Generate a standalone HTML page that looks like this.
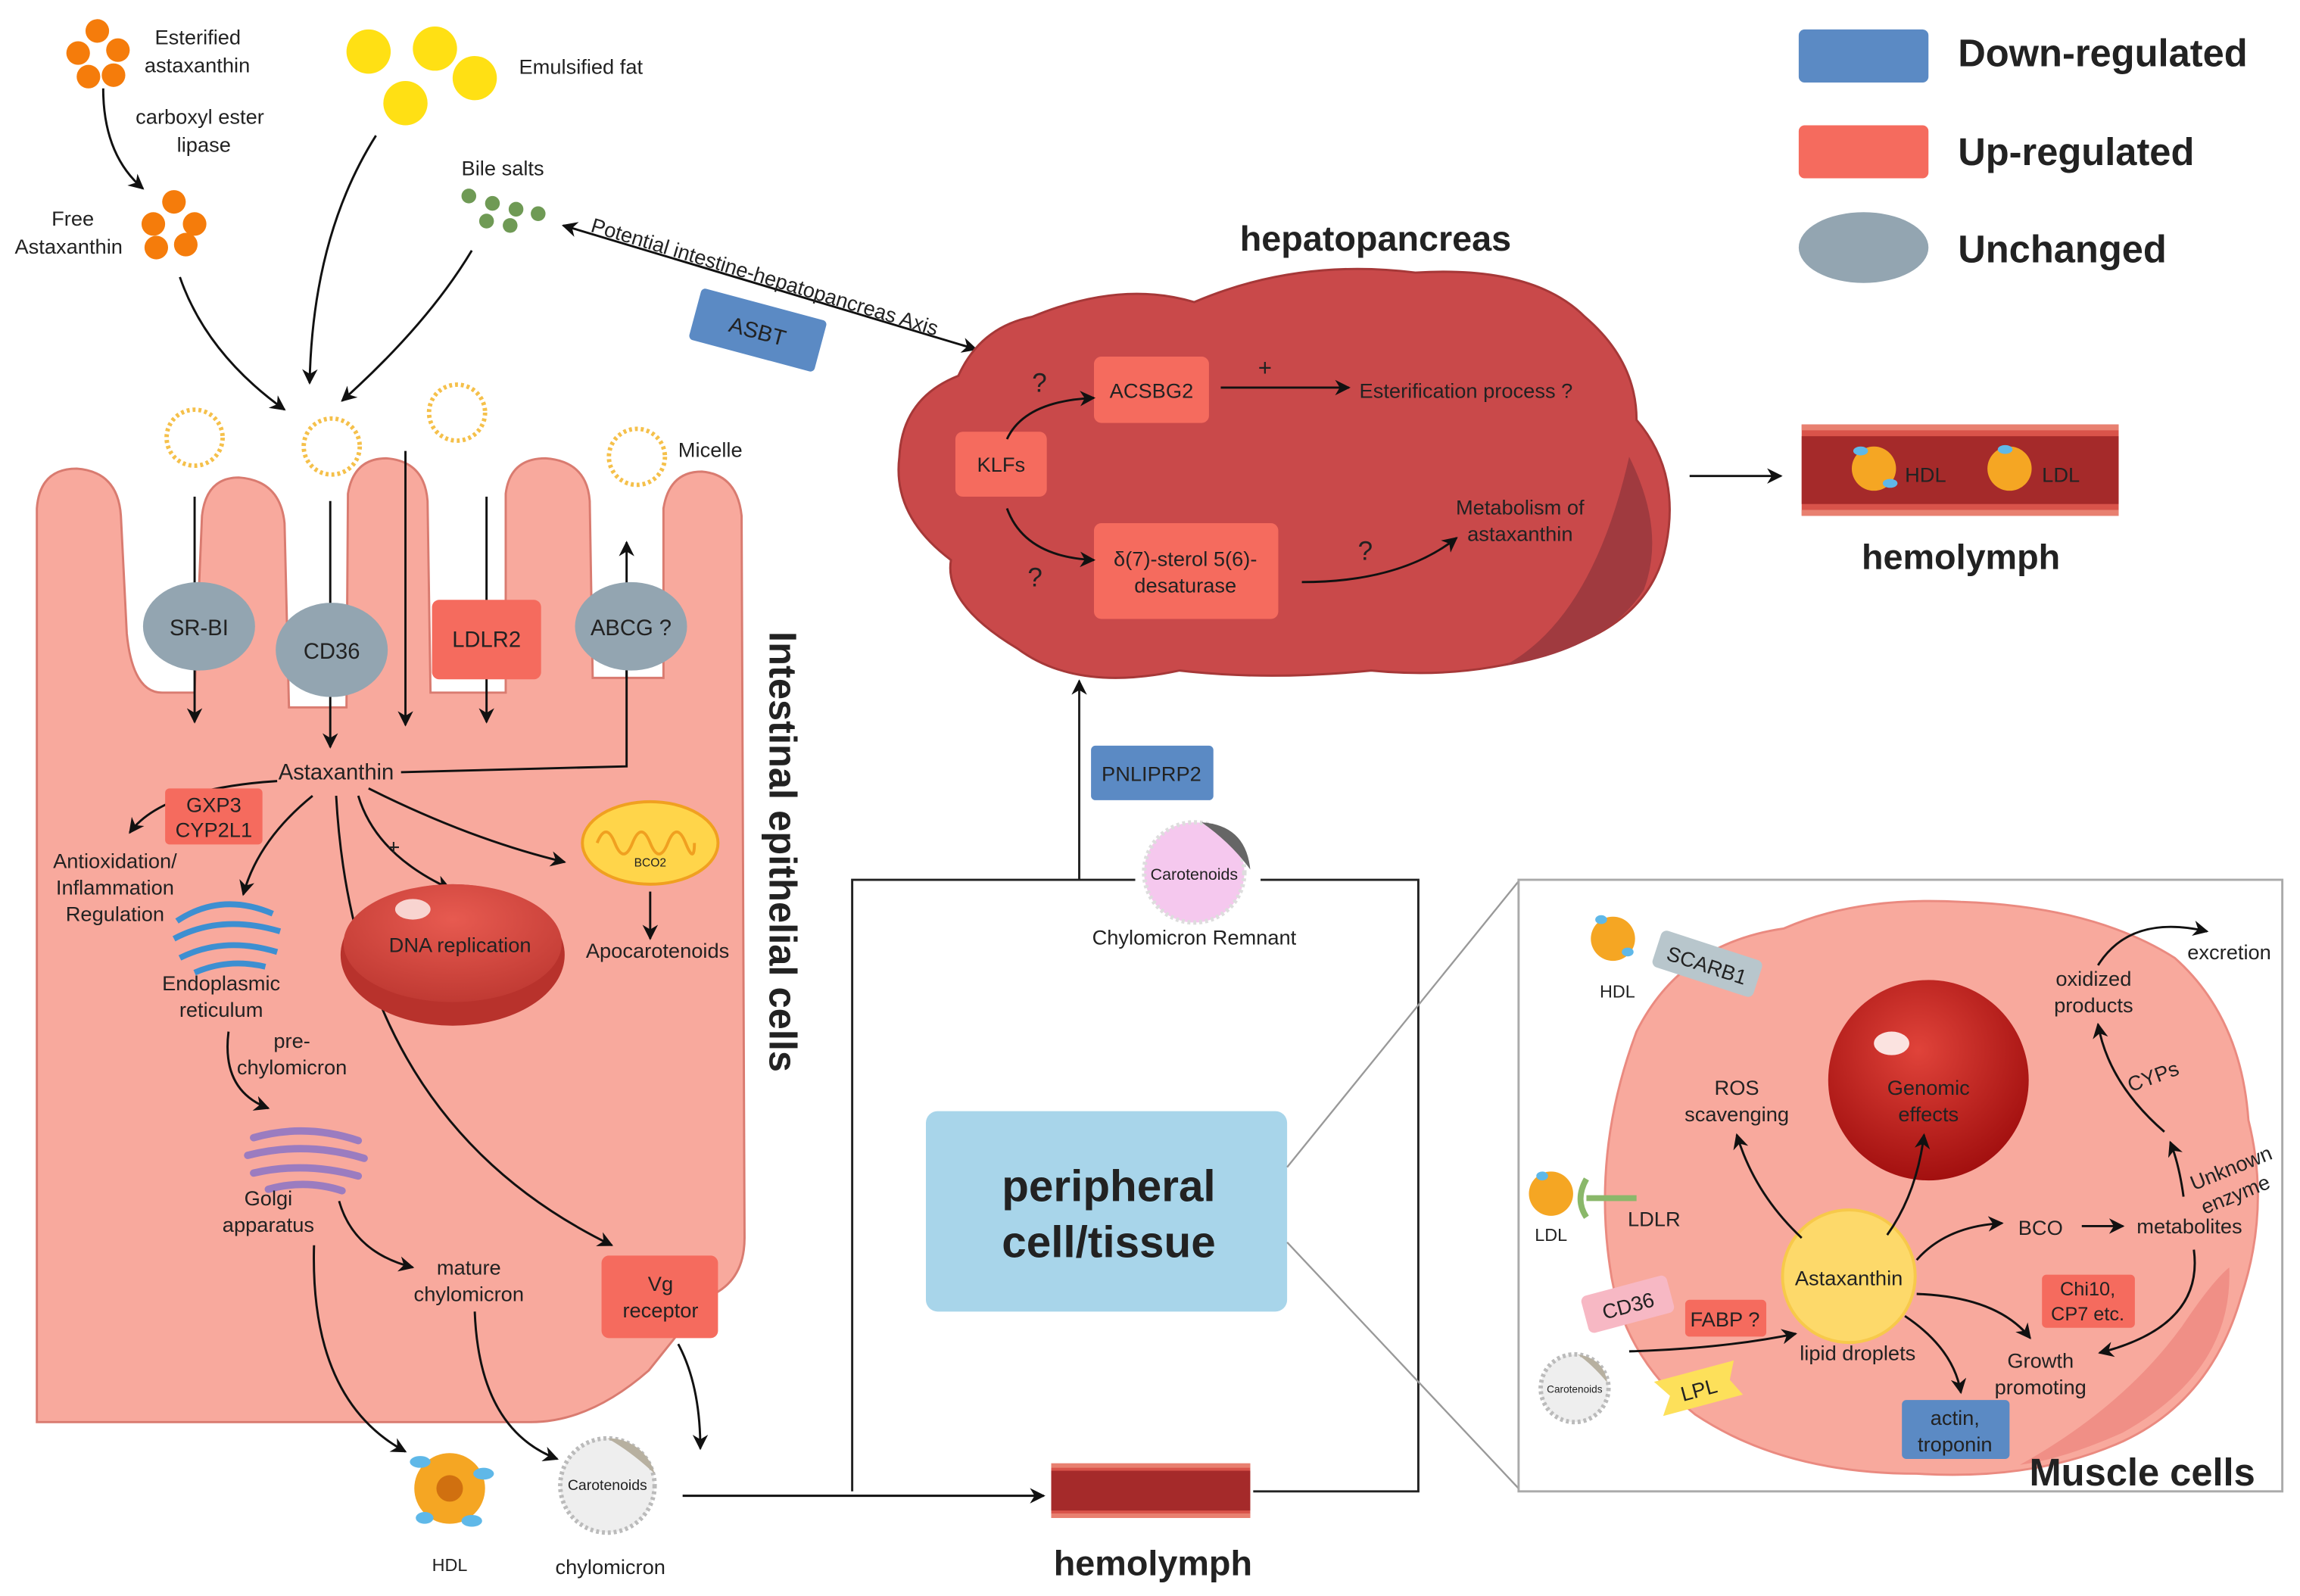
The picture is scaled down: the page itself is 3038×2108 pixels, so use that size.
<!DOCTYPE html>
<html><head><meta charset="utf-8"><style>
html,body{margin:0;padding:0;background:#fff;}
svg{display:block;}
text{font-family:"Liberation Sans",Arial,sans-serif;fill:#222;}
</style></head><body>
<svg width="3038" height="2108" viewBox="0 0 1560 1083" preserveAspectRatio="none" xmlns="http://www.w3.org/2000/svg">
<defs>
<marker id="a" viewBox="0 0 10 10" refX="9" refY="5" markerWidth="7" markerHeight="7" orient="auto-start-reverse"><path d="M0,0 L10,5 L0,10 L3,5 z" fill="#111"/></marker>
<radialGradient id="gen" cx="0.45" cy="0.35" r="0.7"><stop offset="0" stop-color="#e0433a"/><stop offset="1" stop-color="#9e0c0c"/></radialGradient>
<radialGradient id="dna" cx="0.5" cy="0.3" r="0.7"><stop offset="0" stop-color="#e75a50"/><stop offset="1" stop-color="#c03a33"/></radialGradient>
</defs>

<!-- Legend -->
<rect x="1220" y="20" width="88" height="36" rx="4" fill="#5b8ac4"/>
<text x="1328" y="45" font-size="26" font-weight="bold">Down-regulated</text>
<rect x="1220" y="85" width="88" height="36" rx="4" fill="#f56b5e"/>
<text x="1328" y="112" font-size="26" font-weight="bold">Up-regulated</text>
<ellipse cx="1264" cy="168" rx="44" ry="24" fill="#93a5b1"/>
<text x="1328" y="178" font-size="26" font-weight="bold">Unchanged</text>

<!-- top left inputs -->
<g fill="#f57c0b">
<circle cx="66" cy="21" r="8"/><circle cx="53" cy="36" r="8"/><circle cx="80" cy="34" r="8"/><circle cx="60" cy="52" r="8"/><circle cx="77" cy="51" r="8"/>
<circle cx="118" cy="137" r="8"/><circle cx="104" cy="152" r="8"/><circle cx="132" cy="152" r="8"/><circle cx="106" cy="168" r="8"/><circle cx="126" cy="166" r="8"/>
</g>
<text x="105" y="30" font-size="14">Esterified</text>
<text x="98" y="49" font-size="14">astaxanthin</text>
<text x="92" y="84" font-size="14">carboxyl ester</text>
<text x="120" y="103" font-size="14">lipase</text>
<text x="35" y="153" font-size="14">Free</text>
<text x="10" y="172" font-size="14">Astaxanthin</text>
<path d="M70,60 Q70,105 97,128" fill="none" stroke="#111" stroke-width="1.5" marker-end="url(#a)"/>
<path d="M122,188 Q140,240 193,278" fill="none" stroke="#111" stroke-width="1.5" marker-end="url(#a)"/>
<g fill="#ffe014"><circle cx="250" cy="35" r="15"/><circle cx="295" cy="33" r="15"/><circle cx="275" cy="70" r="15"/><circle cx="322" cy="53" r="15"/></g>
<text x="352" y="50" font-size="14">Emulsified fat</text>
<path d="M255,92 Q212,160 210,260" fill="none" stroke="#111" stroke-width="1.5" marker-end="url(#a)"/>
<text x="313" y="119" font-size="14">Bile salts</text>
<g fill="#6f9a55"><circle cx="318" cy="133" r="5"/><circle cx="334" cy="138" r="5"/><circle cx="350" cy="142" r="5"/><circle cx="365" cy="145" r="5"/><circle cx="330" cy="150" r="5"/><circle cx="346" cy="153" r="5"/></g>
<path d="M320,170 Q290,220 232,272" fill="none" stroke="#111" stroke-width="1.5" marker-end="url(#a)"/>
<line x1="382" y1="153" x2="662" y2="237" stroke="#111" stroke-width="1.5" marker-start="url(#a)" marker-end="url(#a)"/>
<text transform="translate(400,157) rotate(16.8)" font-size="14">Potential intestine-hepatopancreas Axis</text>
<g transform="translate(514,224) rotate(15)"><rect x="-44" y="-18" width="88" height="36" rx="3" fill="#5b8ac4"/><text x="0" y="6" font-size="15" text-anchor="middle">ASBT</text></g>

<!-- micelles -->
<g fill="none" stroke="#f5c04a" stroke-width="3" stroke-dasharray="2 2">
<circle cx="132" cy="297" r="19"/><circle cx="225" cy="303" r="19"/><circle cx="310" cy="280" r="19"/><circle cx="432" cy="310" r="19"/></g>
<text x="460" y="310" font-size="14">Micelle</text>

<!-- intestinal cell -->
<path d="M25,965 L25,345 Q27,318 52,318 Q80,320 82,350 L86,430 Q90,470 110,470 L132,470 L137,350 Q140,324 162,324 Q190,326 193,355 L196,480 L235,480 L236,335 Q240,311 262,311 Q288,313 290,340 L292,470 L343,470 L343,335 Q346,311 370,311 Q398,313 400,340 L402,460 L450,460 L450,345 Q454,320 476,320 Q500,322 503,350 L505,840 Q505,870 480,880 L440,930 Q400,965 360,965 Z" fill="#f8a99d" stroke="#d97b70" stroke-width="1.5"/>
<text transform="translate(522,578) rotate(90)" font-size="26" font-weight="bold" text-anchor="middle">Intestinal epithelial cells</text>

<g stroke="#111" stroke-width="1.5" fill="none">
<line x1="132" y1="337" x2="132" y2="490" marker-end="url(#a)"/>
<line x1="224" y1="340" x2="224" y2="507" marker-end="url(#a)"/>
<line x1="275" y1="306" x2="275" y2="492" marker-end="url(#a)"/>
<line x1="330" y1="337" x2="330" y2="490" marker-end="url(#a)"/>
<line x1="425" y1="460" x2="425" y2="368" marker-end="url(#a)"/>
<polyline points="425,455 425,520 272,524"/>
</g>
<ellipse cx="135" cy="425" rx="38" ry="30" fill="#93a5b1"/><text x="135" y="431" font-size="15" text-anchor="middle">SR-BI</text>
<ellipse cx="225" cy="441" rx="38" ry="32" fill="#93a5b1"/><text x="225" y="447" font-size="15" text-anchor="middle">CD36</text>
<rect x="293" y="407" width="74" height="54" rx="5" fill="#f56b5e"/><text x="330" y="439" font-size="15" text-anchor="middle">LDLR2</text>
<ellipse cx="428" cy="425" rx="38" ry="30" fill="#93a5b1"/><text x="428" y="431" font-size="15" text-anchor="middle">ABCG ?</text>

<text x="228" y="529" font-size="15" text-anchor="middle">Astaxanthin</text>
<g stroke="#111" stroke-width="1.5" fill="none">
<path d="M188,530 Q110,535 88,565" marker-end="url(#a)"/>
<path d="M212,540 Q175,570 165,607" marker-end="url(#a)"/>
<path d="M243,540 Q255,580 305,603" marker-end="url(#a)"/>
<path d="M250,535 Q320,570 383,585" marker-end="url(#a)"/>
<path d="M228,540 Q240,760 415,845" marker-end="url(#a)"/>
<path d="M155,700 Q150,740 182,752" marker-end="url(#a)"/>
<path d="M230,815 Q240,850 280,860" marker-end="url(#a)"/>
<path d="M213,845 Q210,950 275,985" marker-end="url(#a)"/>
<path d="M322,890 Q325,970 378,990" marker-end="url(#a)"/>
<path d="M460,912 Q475,940 475,983" marker-end="url(#a)"/>
<line x1="441" y1="605" x2="441" y2="637" marker-end="url(#a)"/>
<line x1="463" y1="1015" x2="708" y2="1015" marker-end="url(#a)"/>
</g>
<rect x="112" y="535" width="66" height="38" rx="3" fill="#f56b5e"/>
<text x="145" y="551" font-size="14" text-anchor="middle">GXP3</text><text x="145" y="568" font-size="14" text-anchor="middle">CYP2L1</text>
<text x="78" y="589" font-size="14" text-anchor="middle">Antioxidation/</text>
<text x="78" y="607" font-size="14" text-anchor="middle">Inflammation</text>
<text x="78" y="625" font-size="14" text-anchor="middle">Regulation</text>
<!-- ER -->
<g fill="none" stroke="#3d8fd1" stroke-width="4">
<path d="M120,625 Q150,605 185,620"/><path d="M118,637 Q150,620 190,632"/><path d="M122,650 Q152,635 188,646"/><path d="M132,660 Q155,650 180,656"/></g>
<text x="150" y="672" font-size="14" text-anchor="middle">Endoplasmic</text>
<text x="150" y="690" font-size="14" text-anchor="middle">reticulum</text>
<text x="198" y="711" font-size="14" text-anchor="middle">pre-</text>
<text x="198" y="729" font-size="14" text-anchor="middle">chylomicron</text>
<!-- Golgi -->
<g fill="none" stroke="#9b7cc0" stroke-width="5" stroke-linecap="round">
<path d="M172,772 Q207,762 243,774"/><path d="M168,784 Q207,774 247,786"/><path d="M172,796 Q207,788 243,798"/><path d="M182,807 Q207,800 232,808"/></g>
<text x="182" y="818" font-size="14" text-anchor="middle">Golgi</text>
<text x="182" y="836" font-size="14" text-anchor="middle">apparatus</text>
<text x="318" y="865" font-size="14" text-anchor="middle">mature</text>
<text x="318" y="883" font-size="14" text-anchor="middle">chylomicron</text>
<!-- DNA -->
<ellipse cx="307" cy="648" rx="76" ry="48" fill="#b8322c"/>
<ellipse cx="307" cy="640" rx="74" ry="40" fill="url(#dna)"/>
<ellipse cx="280" cy="617" rx="12" ry="7" fill="#f8d4d0"/>
<text x="312" y="646" font-size="14" text-anchor="middle">DNA replication</text>
<text x="267" y="580" font-size="15" text-anchor="middle">+</text>
<!-- mito -->
<ellipse cx="441" cy="572" rx="46" ry="28" fill="#ffd54a" stroke="#f0a020" stroke-width="2"/>
<path d="M405,572 q6,-15 12,0 q6,15 12,0 q6,-15 12,0 q6,15 12,0 q6,-15 12,0 q6,15 6,0" fill="none" stroke="#f0a020" stroke-width="2"/>
<text x="441" y="588" font-size="8" text-anchor="middle">BCO2</text>
<text x="446" y="650" font-size="14" text-anchor="middle">Apocarotenoids</text>
<rect x="408" y="852" width="79" height="56" rx="5" fill="#f56b5e"/>
<text x="448" y="876" font-size="14" text-anchor="middle">Vg</text><text x="448" y="894" font-size="14" text-anchor="middle">receptor</text>
<!-- HDL & chylomicron -->
<circle cx="305" cy="1010" r="24" fill="#f5a623"/><circle cx="305" cy="1010" r="9" fill="#d07010"/>
<ellipse cx="285" cy="992" rx="7" ry="4" fill="#5fb8e8"/><ellipse cx="328" cy="1000" rx="7" ry="4" fill="#5fb8e8"/><ellipse cx="320" cy="1032" rx="7" ry="4" fill="#5fb8e8"/><ellipse cx="288" cy="1030" rx="6" ry="4" fill="#5fb8e8"/>
<text x="305" y="1066" font-size="12" text-anchor="middle">HDL</text>
<circle cx="412" cy="1008" r="32" fill="#eeeeee" stroke="#bbb" stroke-width="3" stroke-dasharray="2 2"/>
<path d="M412,976 A32,32 0 0 1 444,1000 Q428,985 412,976z" fill="#b7b0a0"/>
<text x="412" y="1011" font-size="10" text-anchor="middle">Carotenoids</text>
<text x="414" y="1068" font-size="14" text-anchor="middle">chylomicron</text>

<!-- hemolymph bottom -->
<rect x="713" y="993" width="135" height="37" fill="#d9534a"/>
<rect x="713" y="998" width="135" height="27" fill="#a52a2a"/>
<rect x="713" y="993" width="135" height="3" fill="#e88070"/><rect x="713" y="1027" width="135" height="3" fill="#e88070"/>
<text x="782" y="1069" font-size="24" font-weight="bold" text-anchor="middle">hemolymph</text>
<g stroke="#222" stroke-width="1.5" fill="none">
<polyline points="850,1012 962,1012 962,597 855,597"/>
<polyline points="578,1012 578,597 770,597"/>
<line x1="732" y1="597" x2="732" y2="462" marker-end="url(#a)"/>
</g>
<rect x="740" y="506" width="83" height="37" rx="3" fill="#5b8ac4"/>
<text x="781" y="530" font-size="14" text-anchor="middle">PNLIPRP2</text>
<circle cx="810" cy="592" r="34" fill="#f5c8ee" stroke="#ddd" stroke-width="3" stroke-dasharray="2 2"/>
<path d="M815,558 Q845,560 848,590 Q835,572 815,558z" fill="#666"/>
<text x="810" y="597" font-size="11" text-anchor="middle">Carotenoids</text>
<text x="810" y="641" font-size="14" text-anchor="middle">Chylomicron Remnant</text>

<rect x="628" y="754" width="245" height="136" rx="8" fill="#a8d5ea"/>
<text x="752" y="815" font-size="30" font-weight="bold" text-anchor="middle">peripheral</text>
<text x="752" y="853" font-size="30" font-weight="bold" text-anchor="middle">cell/tissue</text>
<line x1="873" y1="792" x2="1030" y2="598" stroke="#999" stroke-width="1.2"/>
<line x1="873" y1="843" x2="1030" y2="1010" stroke="#999" stroke-width="1.2"/>
<rect x="1030" y="597" width="518" height="415" fill="none" stroke="#aaa" stroke-width="1.5"/>

<!-- hepatopancreas -->
<text x="933" y="170" font-size="24" font-weight="bold" text-anchor="middle">hepatopancreas</text>
<path d="M700,215 Q760,190 810,205 Q880,175 960,185 Q1040,180 1075,215 Q1110,245 1110,285 Q1140,320 1130,370 Q1120,420 1060,440 Q1000,462 930,455 Q860,462 800,455 Q730,470 690,440 Q640,410 645,380 Q605,350 610,310 Q612,270 650,255 Q665,222 700,215z" fill="#c9494a" stroke="#a63838" stroke-width="1.5"/>
<path d="M1105,310 Q1130,360 1115,400 Q1090,440 1020,452 Q1080,420 1105,310z" fill="#a03a3f"/>
<rect x="648" y="293" width="62" height="44" rx="5" fill="#f56b5e"/><text x="679" y="320" font-size="14" text-anchor="middle">KLFs</text>
<rect x="742" y="242" width="78" height="45" rx="5" fill="#f56b5e"/><text x="781" y="270" font-size="14" text-anchor="middle">ACSBG2</text>
<rect x="742" y="355" width="125" height="65" rx="5" fill="#f56b5e"/>
<text x="804" y="384" font-size="14" text-anchor="middle">δ(7)-sterol 5(6)-</text><text x="804" y="402" font-size="14" text-anchor="middle">desaturase</text>
<g stroke="#111" stroke-width="1.5" fill="none">
<path d="M683,298 Q695,272 742,270" marker-end="url(#a)"/>
<path d="M683,345 Q695,378 742,380" marker-end="url(#a)"/>
<line x1="828" y1="263" x2="915" y2="263" marker-end="url(#a)"/>
<path d="M883,395 Q950,395 988,365" marker-end="url(#a)"/>
<line x1="1146" y1="323" x2="1208" y2="323" marker-end="url(#a)"/>
</g>
<text x="705" y="266" font-size="18" text-anchor="middle">?</text>
<text x="702" y="398" font-size="18" text-anchor="middle">?</text>
<text x="926" y="380" font-size="18" text-anchor="middle">?</text>
<text x="858" y="255" font-size="16" text-anchor="middle">+</text>
<text x="922" y="270" font-size="14">Esterification process ?</text>
<text x="1031" y="349" font-size="14" text-anchor="middle">Metabolism of</text>
<text x="1031" y="367" font-size="14" text-anchor="middle">astaxanthin</text>

<!-- hemolymph right -->
<rect x="1222" y="288" width="215" height="62" fill="#d9534a"/>
<rect x="1222" y="296" width="215" height="46" fill="#a52a2a"/>
<rect x="1222" y="288" width="215" height="4" fill="#e88070"/><rect x="1222" y="346" width="215" height="4" fill="#e88070"/>
<circle cx="1271" cy="318" r="15" fill="#f5a623"/><ellipse cx="1262" cy="306" rx="5" ry="3" fill="#5fb8e8"/><ellipse cx="1282" cy="328" rx="5" ry="3" fill="#5fb8e8"/>
<text x="1292" y="327" font-size="14">HDL</text>
<circle cx="1363" cy="318" r="15" fill="#f5a623"/><ellipse cx="1360" cy="305" rx="5" ry="3" fill="#5fb8e8"/>
<text x="1385" y="327" font-size="14">LDL</text>
<text x="1330" y="386" font-size="24" font-weight="bold" text-anchor="middle">hemolymph</text>

<!-- muscle cell -->
<path d="M1110,700 Q1140,640 1210,630 Q1260,608 1330,612 Q1420,615 1475,650 Q1520,690 1525,760 Q1540,820 1520,880 Q1500,950 1440,978 Q1380,1005 1300,1000 Q1210,1000 1150,960 Q1100,920 1092,860 Q1080,780 1110,700z" fill="#f8a99d" stroke="#ea8a80" stroke-width="1.5"/>
<path d="M1512,860 Q1515,930 1440,972 Q1400,990 1370,994 Q1440,955 1480,900 Q1500,870 1512,860z" fill="#f08f86"/>
<circle cx="1094" cy="637" r="15" fill="#f5a623"/><ellipse cx="1086" cy="624" rx="4" ry="3" fill="#5fb8e8"/><ellipse cx="1104" cy="646" rx="4" ry="3" fill="#5fb8e8"/>
<text x="1097" y="677" font-size="12" text-anchor="middle">HDL</text>
<g transform="translate(1158,654) rotate(18)"><rect x="-36" y="-13" width="72" height="26" rx="4" fill="#b8c6cc"/><text x="0" y="6" font-size="14" text-anchor="middle">SCARB1</text></g>
<circle cx="1308" cy="733" r="68" fill="url(#gen)"/>
<ellipse cx="1283" cy="708" rx="12" ry="8" fill="#fbe3e0"/>
<text x="1308" y="743" font-size="14" text-anchor="middle">Genomic</text>
<text x="1308" y="761" font-size="14" text-anchor="middle">effects</text>
<text x="1178" y="743" font-size="14" text-anchor="middle">ROS</text>
<text x="1178" y="761" font-size="14" text-anchor="middle">scavenging</text>
<circle cx="1254" cy="866" r="45" fill="#fdd96a" stroke="#f7c94a" stroke-width="2"/>
<text x="1254" y="872" font-size="14" text-anchor="middle">Astaxanthin</text>
<text x="1260" y="923" font-size="14" text-anchor="middle">lipid droplets</text>
<text x="1384" y="838" font-size="14" text-anchor="middle">BCO</text>
<text x="1485" y="837" font-size="14" text-anchor="middle">metabolites</text>
<text x="1420" y="669" font-size="14" text-anchor="middle">oxidized</text>
<text x="1420" y="687" font-size="14" text-anchor="middle">products</text>
<text x="1512" y="651" font-size="14" text-anchor="middle">excretion</text>
<text transform="translate(1462,735) rotate(-20)" font-size="14" text-anchor="middle">CYPs</text>
<text transform="translate(1515,797) rotate(-22)" font-size="14" text-anchor="middle">Unknown</text>
<text transform="translate(1518,815) rotate(-22)" font-size="14" text-anchor="middle">enzyme</text>
<rect x="1385" y="865" width="63" height="36" rx="3" fill="#f56b5e"/>
<text x="1416" y="879" font-size="13" text-anchor="middle">Chi10,</text><text x="1416" y="896" font-size="13" text-anchor="middle">CP7 etc.</text>
<text x="1384" y="928" font-size="14" text-anchor="middle">Growth</text>
<text x="1384" y="946" font-size="14" text-anchor="middle">promoting</text>
<rect x="1290" y="950" width="73" height="40" rx="3" fill="#5b8ac4"/>
<text x="1326" y="967" font-size="14" text-anchor="middle">actin,</text><text x="1326" y="985" font-size="14" text-anchor="middle">troponin</text>
<g stroke="#111" stroke-width="1.5" fill="none">
<path d="M1222,840 Q1190,810 1178,770" marker-end="url(#a)"/>
<path d="M1280,838 Q1300,810 1305,770" marker-end="url(#a)"/>
<path d="M1300,855 Q1320,832 1358,830" marker-end="url(#a)"/>
<line x1="1412" y1="832" x2="1440" y2="832" marker-end="url(#a)"/>
<path d="M1481,812 Q1478,790 1472,775" marker-end="url(#a)"/>
<path d="M1468,768 Q1430,735 1423,695" marker-end="url(#a)"/>
<path d="M1423,655 Q1445,620 1497,632" marker-end="url(#a)"/>
<path d="M1488,848 Q1495,900 1424,918" marker-end="url(#a)"/>
<path d="M1300,878 Q1355,880 1377,908" marker-end="url(#a)"/>
<path d="M1292,893 Q1325,915 1330,945" marker-end="url(#a)"/>
<path d="M1105,917 Q1170,915 1218,905" marker-end="url(#a)"/>
</g>
<circle cx="1052" cy="810" r="15" fill="#f5a623"/><ellipse cx="1046" cy="798" rx="4" ry="3" fill="#5fb8e8"/>
<text x="1052" y="842" font-size="12" text-anchor="middle">LDL</text>
<path d="M1076,800 Q1068,814 1076,826" fill="none" stroke="#8ab86a" stroke-width="4"/>
<line x1="1076" y1="813" x2="1110" y2="813" stroke="#8ab86a" stroke-width="4"/>
<text x="1104" y="832" font-size="14">LDLR</text>
<g transform="translate(1104,885) rotate(-15)"><rect x="-30" y="-13" width="60" height="26" rx="4" fill="#f7b8c4"/><text x="0" y="6" font-size="14" text-anchor="middle">CD36</text></g>
<rect x="1143" y="882" width="55" height="25" rx="3" fill="#f56b5e"/>
<text x="1170" y="900" font-size="14" text-anchor="middle">FABP ?</text>
<circle cx="1068" cy="942" r="23" fill="#eeeeee" stroke="#bbb" stroke-width="3" stroke-dasharray="2 2"/>
<path d="M1070,919 Q1088,922 1090,938 Q1080,926 1070,919z" fill="#b7b0a0"/>
<text x="1068" y="945" font-size="7" text-anchor="middle">Carotenoids</text>
<g transform="translate(1152,942) rotate(-15)"><path d="M-28,-12 L28,-12 L22,0 L28,12 L-28,12 L-20,0 z" fill="#fde05a"/><text x="0" y="6" font-size="14" text-anchor="middle">LPL</text></g>
<text x="1453" y="1008" font-size="26" font-weight="bold" text-anchor="middle">Muscle cells</text>
</svg>
</body></html>
